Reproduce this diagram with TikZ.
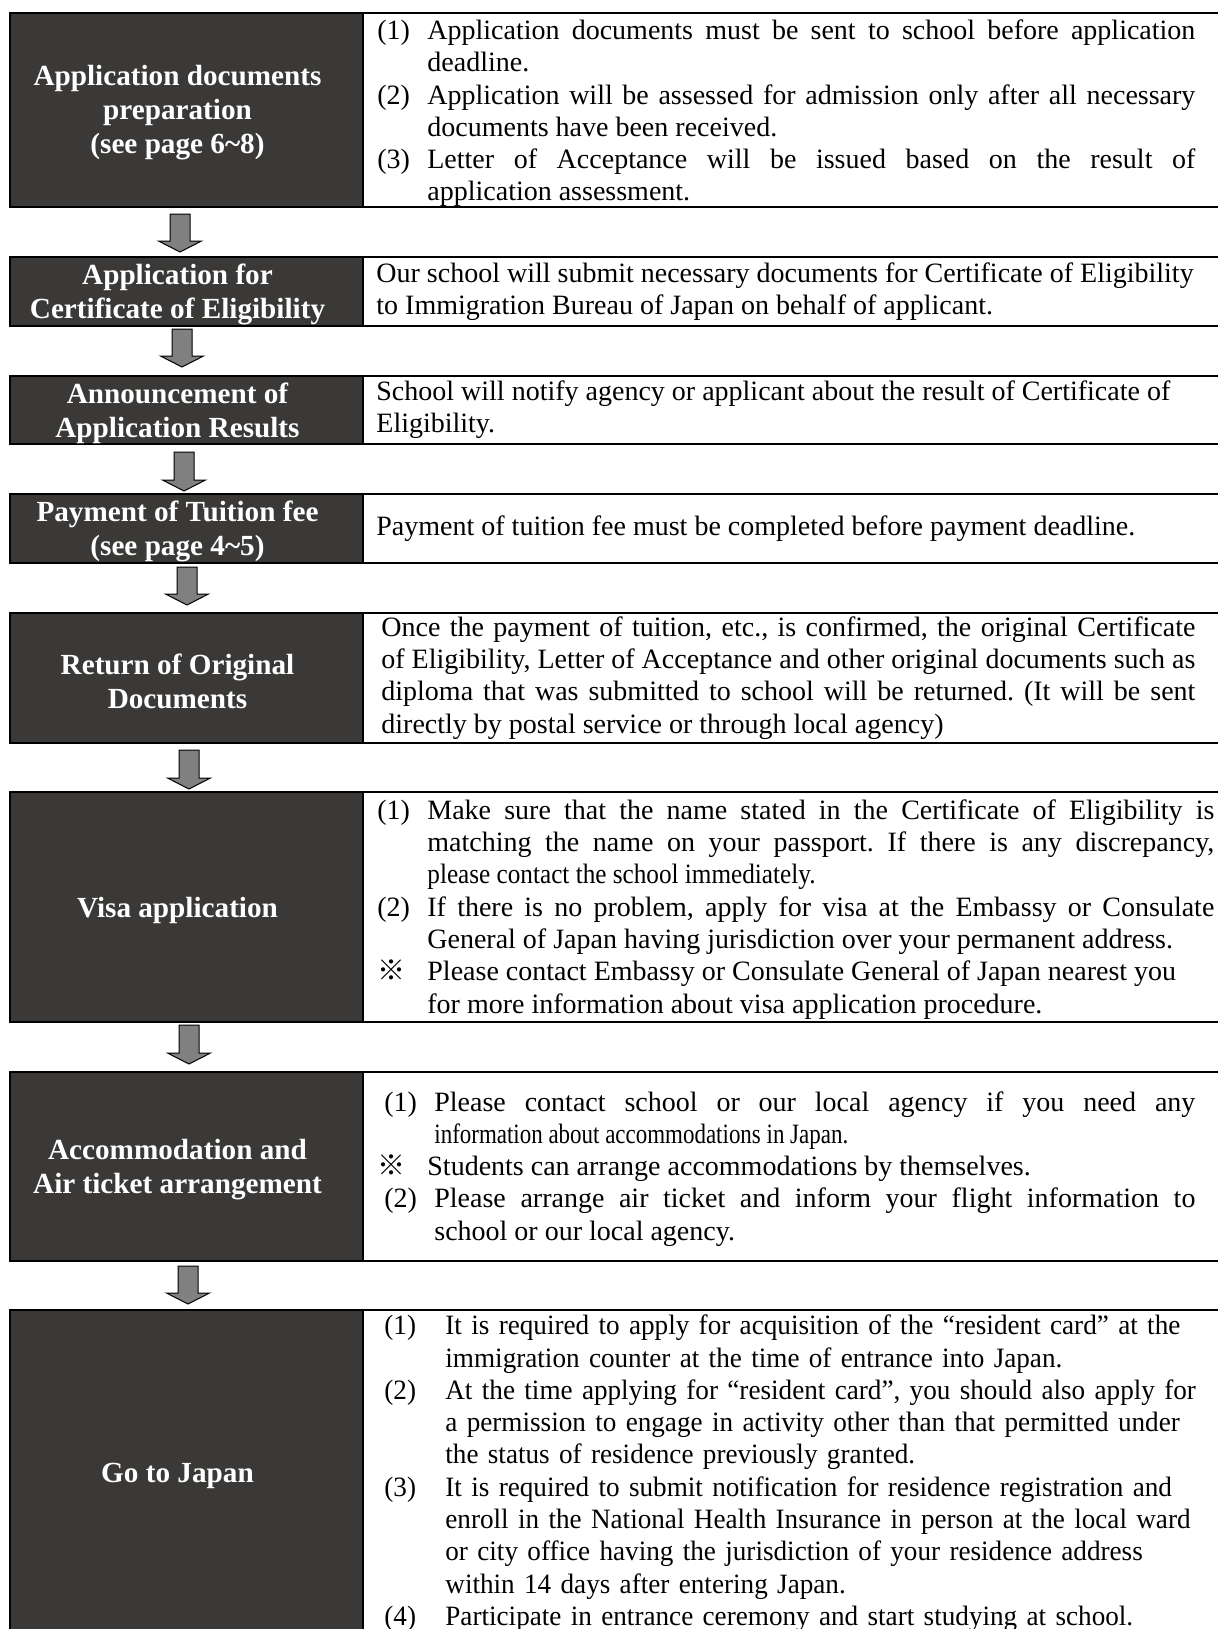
\documentclass[tikz,border=0pt]{standalone}
\usepackage{fontspec}
\setmainfont{Liberation Serif}
\newfontfamily\cjk{Noto Sans CJK JP}
\newfontfamily\narrowserif[FakeStretch=0.97]{Liberation Serif}
\newfontfamily\tightserif[FakeStretch=0.9]{Liberation Serif}
\newfontfamily\tighterserif[FakeStretch=0.82]{Liberation Serif}
\usetikzlibrary{positioning, calc}
\definecolor{stagegray}{RGB}{58,57,55}
\definecolor{arrowgray}{RGB}{128,128,128}
\tolerance=10000
\hbadness=10000
\hyphenpenalty=10000
\frenchspacing
% one numbered entry with a hanging indent
\newcommand{\entry}[3][25pt]{\par\noindent\hangindent=#1\hangafter=1\makebox[#1][l]{#2}\ignorespaces#3\par}
\tikzstyle{stage} = [rectangle, draw=black, line width=1pt, fill=stagegray, minimum width=176.5pt, inner sep=0pt, outer sep=0pt, anchor=north west]
\tikzstyle{cell} = [rectangle, draw=black, line width=1pt, fill=white, minimum width=440pt, inner sep=0pt, outer sep=0pt, anchor=north west]
\tikzstyle{stagetext} = [text=white, align=center, inner sep=0pt, font=\fontsize{14.6}{17}\selectfont\bfseries]
\tikzstyle{celltext} = [anchor=west, inner sep=0pt, align=justify, font=\fontsize{14}{16.15}\selectfont]
\tikzstyle{flow} = [draw=black, line width=0.5pt, fill=arrowgray, to path={let \p1=(\tikztostart), \p2=(\tikztotarget) in (\x1-5pt,\y1) -- (\x1+5pt,\y1) -- (\x1+5pt,\y2+5.5pt) -- (\x1+10.75pt,\y2+5.5pt) -- (\x1,\y2) -- (\x1-10.75pt,\y2+5.5pt) -- (\x1-5pt,\y2+5.5pt) -- cycle}]

\begin{document}
\begin{tikzpicture}[x=1pt, y=1pt]
  \useasboundingbox (0,0) rectangle (609,-814.5);
  \clip (0,0) rectangle (609,-814.5);

  % Stages
  \node[stage, minimum height=97pt] (s1) at (5,-6.5) {};
  \node[stage, minimum height=34.5pt, below=25pt of s1] (s2) {};
  \node[stage, minimum height=34pt, below=25pt of s2] (s3) {};
  \node[stage, minimum height=34.5pt, below=25pt of s3] (s4) {};
  \node[stage, minimum height=65pt, below=25pt of s4] (s5) {};
  \node[stage, minimum height=115pt, below=24.5pt of s5] (s6) {};
  \node[stage, minimum height=94.5pt, below=25pt of s6] (s7) {};
  \node[stage, minimum height=164pt, below=24.5pt of s7] (s8) {};

  % Cells
  \node[cell, minimum height=97pt] (c1) at (s1.north east) {};
  \node[cell, minimum height=34.5pt] (c2) at (s2.north east) {};
  \node[cell, minimum height=34pt] (c3) at (s3.north east) {};
  \node[cell, minimum height=34.5pt] (c4) at (s4.north east) {};
  \node[cell, minimum height=65pt] (c5) at (s5.north east) {};
  \node[cell, minimum height=115pt] (c6) at (s6.north east) {};
  \node[cell, minimum height=94.5pt] (c7) at (s7.north east) {};
  \node[cell, minimum height=164pt] (c8) at (s8.north east) {};

  % Stage names
  \node[stagetext] (n1) at ([xshift=-4.5pt,yshift=-1.5pt]s1.center) {Application documents\\preparation\\(see page 6\textasciitilde8)};
  \node[stagetext] (n2) at ([xshift=-4.5pt,yshift=-1.5pt]s2.center) {Application for\\Certificate of Eligibility};
  \node[stagetext] (n3) at ([xshift=-4.5pt,yshift=-1.5pt]s3.center) {Announcement of\\Application Results};
  \node[stagetext] (n4) at ([xshift=-4.5pt,yshift=-1.5pt]s4.center) {Payment of Tuition fee\\(see page 4\textasciitilde5)};
  \node[stagetext] (n5) at ([xshift=-4.5pt,yshift=-1.5pt]s5.center) {Return of Original\\Documents};
  \node[stagetext] (n6) at ([xshift=-4.5pt,yshift=-1.5pt]s6.center) {Visa application};
  \node[stagetext] (n7) at ([xshift=-4.5pt,yshift=-1.5pt]s7.center) {Accommodation and\\Air ticket arrangement};
  \node[stagetext] (n8) at ([xshift=-4.5pt,yshift=-1pt]s8.center) {Go to Japan};

  % Details
  \node[celltext, text width=409pt] (d1) at ([xshift=7pt,yshift=1.5pt]c1.west) {%
    \entry{(1)}{Application documents must be sent to school before application \linebreak deadline.}
    \entry{(2)}{Application will be assessed for admission only after all necessary \linebreak documents have been received.}
    \entry{(3)}{Letter of Acceptance will be issued based on the result of \linebreak application assessment.}};
  \node[celltext, text width=409.5pt] (d2) at ([xshift=6.5pt]c2.west) {Our school will submit necessary documents for Certificate of Eligibility \newline to Immigration Bureau of Japan on behalf of applicant.};
  \node[celltext, text width=409.5pt] (d3) at ([xshift=6.5pt]c3.west) {School will notify agency or applicant about the result of Certificate of \newline Eligibility.};
  \node[celltext, text width=409.5pt] (d4) at ([xshift=6.5pt]c4.west) {Payment of tuition fee must be completed before payment deadline.};
  \node[celltext, text width=407pt] (d5) at ([xshift=9pt]c5.west) {Once the payment of tuition, etc., is confirmed, the original Certificate \linebreak of Eligibility, Letter of Acceptance and other original documents such as \linebreak diploma that was submitted to school will be returned. (It will be sent \linebreak directly by postal service or through local agency)};
  \node[celltext, text width=418.5pt] (d6) at ([xshift=7pt,yshift=2pt]c6.west) {%
    \entry{(1)}{Make sure that the name stated in the Certificate of Eligibility is \linebreak matching the name on your passport. If there is any discrepancy, \linebreak {\tightserif please contact the school immediately.}}
    \entry{(2)}{If there is no problem, apply for visa at the Embassy or Consulate \linebreak General of Japan having jurisdiction over your permanent address.}
    \entry{{\cjk ※}}{Please contact Embassy or Consulate General of Japan nearest you \newline for more information about visa application procedure.}};
  \node[celltext, text width=409pt] (d7) at ([xshift=7pt,yshift=2pt]c7.west) {%
    \entry[28.5pt]{\hspace*{3.5pt}(1)}{Please contact school or our local agency if you need any \linebreak {\tighterserif information about accommodations in Japan.}}
    \entry{{\cjk ※}}{Students can arrange accommodations by themselves.}
    \entry[28.5pt]{\hspace*{3.5pt}(2)}{Please arrange air ticket and inform your flight information to \linebreak school or our local agency.}};
  \node[celltext, align=left, text width=418.5pt, font=\narrowserif\fontsize{14}{16.15}\selectfont] (d8) at ([xshift=7pt,yshift=3.5pt]c8.west) {%
    \entry[34pt]{\hspace*{3.5pt}(1)}{It is required to apply for acquisition of the “resident card” at the \newline immigration counter at the time of entrance into Japan.}
    \entry[34pt]{\hspace*{3.5pt}(2)}{At the time applying for “resident card”, you should also apply for \newline a permission to engage in activity other than that permitted under \newline the status of residence previously granted.}
    \entry[34pt]{\hspace*{3.5pt}(3)}{It is required to submit notification for residence registration and \newline enroll in the National Health Insurance in person at the local ward \newline or city office having the jurisdiction of your residence address \newline within 14 days after entering Japan.}
    \entry[34pt]{\hspace*{3.5pt}(4)}{Participate in entrance ceremony and start studying at school.}};

  % Arrows
  \draw[flow] ([xshift=-3.25pt,yshift=-3.5pt]s1.south) to ([xshift=-3.25pt,yshift=2.5pt]s2.north);
  \draw[flow] ([xshift=-2.25pt,yshift=-1.5pt]s2.south) to ([xshift=-2.25pt,yshift=4.5pt]s3.north);
  \draw[flow] ([xshift=-1.25pt,yshift=-4pt]s3.south) to ([xshift=-1.25pt,yshift=1.5pt]s4.north);
  \draw[flow] ([xshift=0.25pt,yshift=-2pt]s4.south) to ([xshift=0.25pt,yshift=4pt]s5.north);
  \draw[flow] ([xshift=1.25pt,yshift=-3.5pt]s5.south) to ([xshift=1.25pt,yshift=1.5pt]s6.north);
  \draw[flow] ([xshift=1.25pt,yshift=-1.5pt]s6.south) to ([xshift=1.25pt,yshift=4pt]s7.north);
  \draw[flow] ([xshift=0.75pt,yshift=-2.5pt]s7.south) to ([xshift=0.75pt,yshift=3pt]s8.north);
\end{tikzpicture}
\end{document}
